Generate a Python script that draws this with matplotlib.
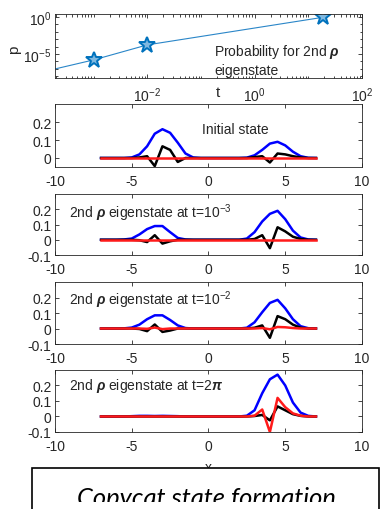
import numpy as np
import matplotlib
matplotlib.use("Agg")
import matplotlib.pyplot as plt
from matplotlib.patches import Rectangle
from matplotlib.transforms import Bbox, TransformedBbox
from matplotlib.ticker import FixedLocator, LogLocator, NullFormatter

plt.rcParams["font.family"] = ["Liberation Sans", "DejaVu Sans"]
plt.rcParams["font.size"] = 10
plt.rcParams["axes.unicode_minus"] = False
plt.rcParams["mathtext.fontset"] = "custom"
plt.rcParams["mathtext.rm"] = "Liberation Sans"
plt.rcParams["mathtext.it"] = "Liberation Sans:italic"
plt.rcParams["mathtext.bf"] = "Liberation Sans:italic:bold"

# top panel: probability vs t
t_line = [1e-4, 1e-3, 1e-2, 18.8]
p_line = [3.2e-8, 1.6e-6, 1.7e-4, 0.9]
t_star = [1e-3, 1e-2, 18.8]
p_star = [1.6e-6, 1.7e-4, 0.9]

# lower panels: profiles sampled on x
x = [-7, -6.5, -6, -5.5, -5, -4.5, -4, -3.5, -3, -2.5, -2, -1.5, -1, -0.5, 0,
     0.5, 1, 1.5, 2, 2.5, 3, 3.5, 4, 4.5, 5, 5.5, 6, 6.5, 7]

blue_init = [0, 0, 0, 0, 0.003, 0.02, 0.065, 0.135, 0.16, 0.14, 0.085, 0.025, 0.003, 0, 0,
             0, 0, 0, 0, 0.002, 0.015, 0.045, 0.08, 0.09, 0.07, 0.035, 0.01, 0.001, 0]
black_init = [0, 0, 0, 0, 0, 0.003, 0.01, -0.045, 0.065, 0.045, -0.022, 0, 0, 0, 0,
              0, 0, 0, 0, 0, 0.005, 0.01, -0.025, 0.025, 0.02, 0.01, 0.003, 0, 0]
red_init = [0] * 29

blue_t1 = [0, 0, 0, 0.002, 0.008, 0.035, 0.07, 0.09, 0.09, 0.05, 0.012, 0.002, 0, 0, 0,
           0, 0, 0, 0, 0.008, 0.05, 0.12, 0.17, 0.19, 0.135, 0.06, 0.015, 0.002, 0]
black_t1 = [0, 0, 0, 0, 0, -0.003, -0.015, 0.03, -0.025, -0.01, 0, 0, 0, 0, 0,
            0, 0, 0, 0, 0, 0.005, 0.03, -0.055, 0.082, 0.055, 0.02, 0.005, 0, 0]
red_t1 = [0] * 29

blue_t2 = [0, 0, 0, 0.001, 0.006, 0.025, 0.06, 0.085, 0.085, 0.055, 0.02, 0.003, 0, 0, 0,
           0, 0, 0, 0, 0.005, 0.04, 0.105, 0.165, 0.185, 0.13, 0.06, 0.015, 0.002, 0]
black_t2 = [0, 0, 0, 0, 0, -0.003, -0.017, 0.026, -0.022, -0.013, 0, 0, 0, 0, 0,
            0, 0, 0, 0, 0, 0.005, 0.02, -0.06, 0.08, 0.06, 0.025, 0.005, 0, 0]
red_t2 = [0, 0, 0, 0, 0, 0, -0.002, 0.006, -0.004, 0, 0, 0, 0, 0, 0,
          0, 0, 0, 0, 0, 0, 0.003, -0.005, 0.01, 0.008, 0.003, 0, 0, 0]

blue_t3 = [0, 0, 0, 0, 0.002, 0.004, 0.004, 0.003, 0.004, 0.003, 0.002, 0, 0, 0, 0,
           0, 0, 0, 0, 0.005, 0.04, 0.15, 0.24, 0.27, 0.2, 0.09, 0.025, 0.004, 0]
black_t3 = [0] * 20 + [0.003, 0.01, -0.025, 0.065, 0.04, 0.015, 0.004, 0, 0]
red_t3 = [0] * 20 + [0.005, 0.045, -0.1, 0.12, 0.06, 0.02, 0.005, 0, 0]

panels = [
    (blue_init, black_init, red_init, "Initial state", (-0.45, 0.16), (-0.05, 0.3)),
    (blue_t1, black_t1, red_t1, "2nd $\\mathbf{\\rho}$ eigenstate at t=10$^{-3}$", (-9.1, 0.18), (-0.1, 0.3)),
    (blue_t2, black_t2, red_t2, "2nd $\\mathbf{\\rho}$ eigenstate at t=10$^{-2}$", (-9.1, 0.19), (-0.1, 0.3)),
    (blue_t3, black_t3, red_t3, "2nd $\\mathbf{\\rho}$ eigenstate at t=2$\\mathbf{\\pi}$", (-9.1, 0.2), (-0.1, 0.3)),
]

ink = "#262626"
fig = plt.figure(figsize=(3.8, 5.1), dpi=100)


def style(ax):
    for s in ax.spines.values():
        s.set_color(ink)
        s.set_linewidth(0.6)
    ax.tick_params(which="both", direction="in", top=True, right=True,
                   color=ink, labelcolor=ink, width=0.6, labelsize=10)
    ax.tick_params(which="major", length=3)
    ax.tick_params(which="minor", length=1.8)


# top panel
ax0 = fig.add_axes([0.1447, 0.8451, 0.8079, 0.1255])
ax0.loglog(t_line, p_line, color="#2a86c8", lw=0.8)
ax0.plot(t_star, p_star, ls="none", marker="*", ms=12, mfc="#7fb8e0",
         mec="#0072BD", mew=1.4)
ax0.set_xlim(10 ** -3.72, 10 ** 2.0)
ax0.set_ylim(10 ** -8.24, 10 ** 0.4)
ax0.xaxis.set_major_locator(FixedLocator([1e-2, 1e0, 1e2]))
ax0.xaxis.set_minor_locator(LogLocator(base=10, subs=np.arange(1, 10), numticks=30))
ax0.xaxis.set_minor_formatter(NullFormatter())
ax0.yaxis.set_major_locator(FixedLocator([1e-10, 1e-5, 1e0]))
ax0.yaxis.set_minor_locator(LogLocator(base=10, subs=(1.0,), numticks=30))
ax0.yaxis.set_minor_formatter(NullFormatter())
style(ax0)
ax0.tick_params(axis="x", which="major", pad=5)
ax0.tick_params(axis="y", which="major", pad=2.5)
ax0.text(0.531, -0.11, "t", transform=ax0.transAxes, ha="center", va="top",
         color=ink, fontsize=11)
ax0.text(-0.134, 0.45, "p", transform=ax0.transAxes, ha="center", va="center",
         rotation=90, color=ink, fontsize=11)
ax0.text(0.518, 0.29, "Probability for 2nd $\\mathbf{\\rho}$\neigenstate",
         transform=ax0.transAxes, ha="left", va="center", color=ink,
         linespacing=1.35)

# lower panels
boxes = [
    [0.1447, 0.6706, 0.8079, 0.1235],
    [0.1447, 0.4980, 0.8079, 0.1196],
    [0.1447, 0.3235, 0.8079, 0.1216],
    [0.1447, 0.1510, 0.8079, 0.1216],
]
for box, (b, k, r, label, pos, ylim) in zip(boxes, panels):
    ax = fig.add_axes(box)
    ax.plot(x, b, color="#0000ff", lw=1.8)
    ax.plot(x, k, color="black", lw=1.8)
    ax.plot(x, r, color="#ff1a1a", lw=1.8)
    ax.set_xlim(-10, 10)
    ax.set_ylim(*ylim)
    ax.set_xticks([-10, -5, 0, 5, 10])
    if ylim[0] < -0.06:
        ax.set_yticks([-0.1, 0, 0.1, 0.2], labels=["-0.1", "0", "0.1", "0.2"])
    else:
        ax.set_yticks([0, 0.1, 0.2], labels=["0", "0.1", "0.2"])
    style(ax)
    ax.tick_params(axis="x", pad=5)
    ax.tick_params(axis="y", pad=2.5)
    ax.text(pos[0], pos[1], label, ha="left", va="center", color=ink)

# xlabel mostly hidden behind the caption box
fig.text(0.548, 1 - 461 / 510, "x", ha="center", va="top", color=ink,
         fontsize=10, zorder=1)
fig.patches.append(Rectangle((32 / 380, -0.05), 0.914, 0.05 + 1 - 469.3 / 510,
                             transform=fig.transFigure, facecolor="white",
                             edgecolor="black", lw=1.2, zorder=5))
cap = fig.text(0.542, 4.0 / 510, "Copycat state formation", ha="center",
               va="baseline", family="Lato", style="italic", fontsize=18.4,
               color="black", zorder=6)
cap.set_clip_box(TransformedBbox(Bbox([[0, 7.5 / 510], [1, 1]]), fig.transFigure))
cap.set_clip_on(True)

fig.savefig("out.png", dpi=100)
